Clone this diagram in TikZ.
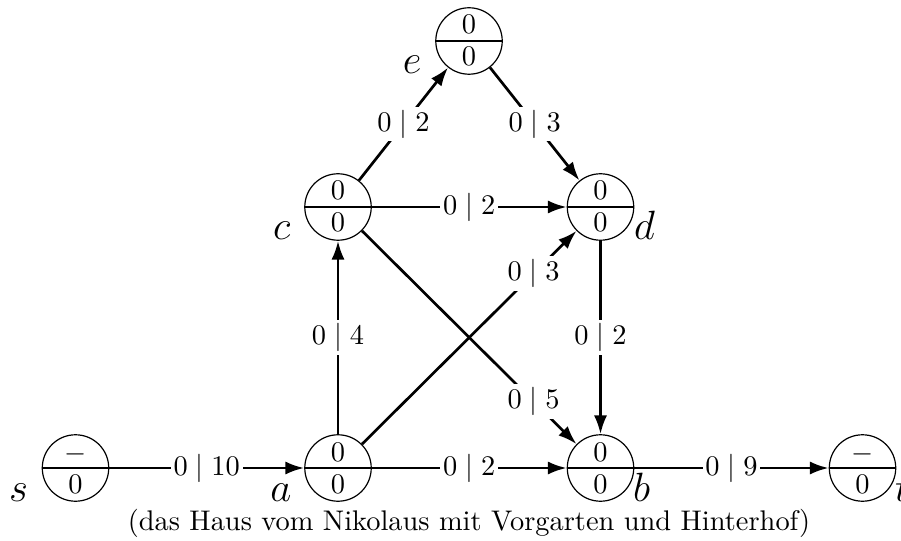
\documentclass[tikz,border=0pt]{standalone}
\usetikzlibrary{arrows.meta}
\newcommand\myvertex[5]{%
  \node[vtx] (#1) at (#2,#3) {};
  \draw[line width=0.42pt] (#1.west) -- (#1.east);
  \node[vtxt,anchor=base] (#1top) at (#2,#3-7) {#4};
  \node[vtxt,anchor=base] (#1bot) at (#2,#3+25) {#5};
}
\begin{document}
\begin{tikzpicture}[x=0.01238cm,y=-0.01238cm,
  vtx/.style={circle,draw,line width=0.42pt,minimum size=23.4pt,inner sep=0pt},
  vtxt/.style={inner sep=0pt},
  edge/.style={line width=0.95pt,-{Latex[length=6.6pt,width=4.6pt]}},
  elab/.style={fill=white,inner sep=1pt},
  vname/.style={font=\fontsize{15.6}{18}\selectfont,inner sep=0pt}]
\useasboundingbox (0,0) rectangle (901,541);
\myvertex{s}{75.5}{468}{$-$}{0}
\myvertex{a}{338}{468}{0}{0}
\myvertex{b}{600.5}{468}{0}{0}
\myvertex{t}{862.5}{468}{$-$}{0}
\myvertex{c}{338}{207}{0}{0}
\myvertex{d}{600.5}{207}{0}{0}
\myvertex{e}{469}{41}{0}{0}
\node[vname,anchor=base east] (slab) at (75.5-47,468+33) {$s$};
\node[vname,anchor=base east] (alab) at (338-46,468+33) {$a$};
\node[vname,anchor=base east] (clab) at (338-47,207+33) {$c$};
\node[vname,anchor=base east] (elab) at (469-47,41+33) {$e$};
\node[vname,anchor=base west] (blab) at (600.5+32,468+33) {$b$};
\node[vname,anchor=base west] (dlab) at (600.5+33,207+33) {$d$};
\node[vname,anchor=base west] (tlab) at (862.5+32,468+33) {$t$};
\draw[edge] (s) -- node[elab]{$0\mid10$} (a);
\draw[edge] (a) -- node[elab]{$0\mid2$} (b);
\draw[edge] (b) -- node[elab]{$0\mid9$} (t);
\draw[edge] (a) -- node[elab]{$0\mid4$} (c);
\draw[edge] (d) -- node[elab]{$0\mid2$} (b);
\draw[edge] (c) -- node[elab]{$0\mid2$} (d);
\draw[edge] (c) -- node[elab]{$0\mid2$} (e);
\draw[edge] (e) -- node[elab]{$0\mid3$} (d);
\draw[edge] (a) -- node[elab,pos=0.8]{$0\mid3$} (d);
\draw[edge] (c) -- node[elab,pos=0.8]{$0\mid5$} (b);
\node[anchor=base] (cap) at (469,530) {(das Haus vom Nikolaus mit Vorgarten und Hinterhof)};
\end{tikzpicture}
\end{document}
